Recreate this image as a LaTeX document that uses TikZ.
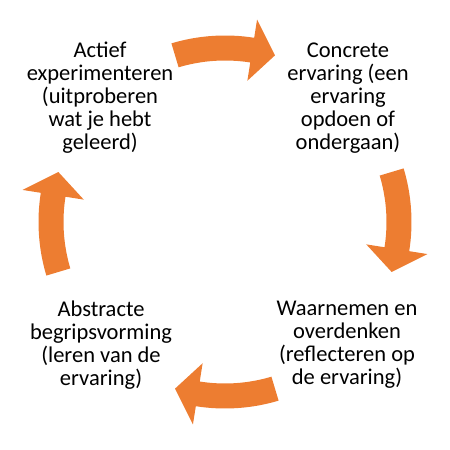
\documentclass[tikz,border=0pt]{standalone}
\usepackage{fontspec}
\setmainfont{Carlito}
\usepackage{tikz}
\definecolor{CycleOrange}{RGB}{237,125,49}

\begin{document}
\begin{tikzpicture}[
  x=1pt,y=1pt,
  font=\fontsize{22.5}{23}\selectfont,
  phase/.style={align=center,inner sep=0pt},
  cyclearrow/.pic={
    \fill[CycleOrange] (106.7:186.5) arc[start angle=106.7,end angle=81,radius=186.5]
      -- (81:205) -- (73.3:174) -- (81:143) -- (81:161.5)
      arc[start angle=81,end angle=106.7,radius=161.5] -- cycle;
  }
]
\useasboundingbox (0,0) rectangle (450,450);
\coordinate (hub) at (225,228);

% the four phases
\node[phase] (doen) at (100,352) {Actief\\experimenteren\\(uitproberen\\wat je hebt\\geleerd)};
\node[phase] (ervaren) at (348,352) {Concrete\\ervaring (een\\ervaring\\opdoen of\\ondergaan)};
\node[phase] (reflecteren) at (347,105) {Waarnemen en\\overdenken\\(reflecteren op\\de ervaring)};
\node[phase] (leren) at (101,105) {Abstracte\\begripsvorming\\(leren van de\\ervaring)};

% arrows round the cycle
\pic[rotate=0] at (hub) {cyclearrow};
\pic[rotate=-90] at (hub) {cyclearrow};
\pic[rotate=-180] at (hub) {cyclearrow};
\pic[rotate=-270] at (hub) {cyclearrow};
\end{tikzpicture}
\end{document}
